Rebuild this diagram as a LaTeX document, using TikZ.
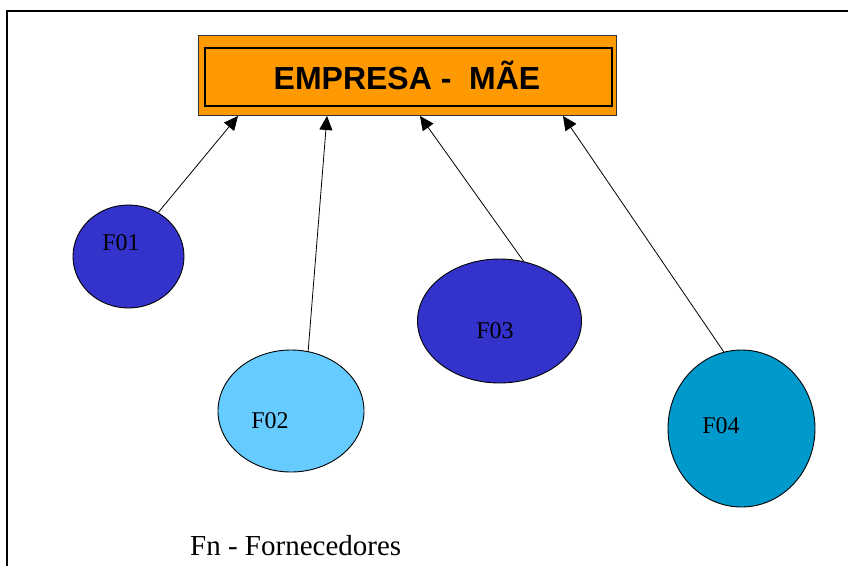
\documentclass[tikz,border=0pt]{standalone}
\usepackage{fontspec}
\setmainfont{Liberation Serif}
\newfontfamily\titlefont{Liberation Sans}
\usetikzlibrary{shapes.geometric,arrows.meta}
\definecolor{orangebox}{HTML}{FF9900}
\definecolor{darkblue}{HTML}{3333CC}
\definecolor{lightblue}{HTML}{66CCFF}
\definecolor{midblue}{HTML}{0099CC}
\begin{document}
\begin{tikzpicture}[x=1pt,y=-1pt,
  supplier/.style={ellipse,draw=black,line width=0.9pt,inner sep=0pt},
  slabel/.style={inner sep=0pt,font=\fontsize{24}{24}\selectfont},
  link/.style={line width=0.8pt,-{Triangle[length=14pt,width=13pt]}},
  frameline/.style={line width=2pt,line cap=rect}
]
\useasboundingbox (0,0) rectangle (848,565);

% page frame (top and left edges)
\draw[frameline] (7,565) -- (7,10.5) -- (848,10.5);

% head office box
\node[draw=black!80,line width=0.8pt,fill=orangebox,minimum width=418pt,minimum height=80pt,inner sep=0pt,
      font=\titlefont\bfseries\fontsize{32}{32}\selectfont] (box) at (407,75) {EMPRESA -\ \ MÃE};
\draw[line width=2pt] ([shift={(7,13)}]box.north west) rectangle ([shift={(-4,-9)}]box.south east);

% suppliers
\node[supplier,fill=darkblue,minimum width=111pt,minimum height=103pt] (f1) at (128.5,256.5) {};
\node[supplier,fill=lightblue,minimum width=146pt,minimum height=122pt] (f2) at (291,411) {};
\node[supplier,fill=darkblue,minimum width=164pt,minimum height=124pt] (f3) at (499.5,321) {};
\node[supplier,fill=midblue,minimum width=147pt,minimum height=157pt] (f4) at (741.5,428.5) {};

\node[slabel] (l1) at (121,243) {F01};
\node[slabel] (l2) at (270,421) {F02};
\node[slabel] (l3) at (495,331) {F03};
\node[slabel] (l4) at (721,426) {F04};

% arrow targets on the lower edge of the box
\coordinate (t1) at (238,116);
\coordinate (t2) at (327,116);
\coordinate (t3) at (420,116);
\coordinate (t4) at (563,116);

\draw[link] (f1.56) -- (t1);
\draw[link] (f2.74) -- (t2);
\draw[link] (f3.68) -- (t3);
\draw[link] (f4.103) -- (t4);

% legend
\node[anchor=west,inner sep=0pt,font=\fontsize{29}{29}\selectfont] (legend) at (190,546) {Fn - Fornecedores};
\end{tikzpicture}
\end{document}
